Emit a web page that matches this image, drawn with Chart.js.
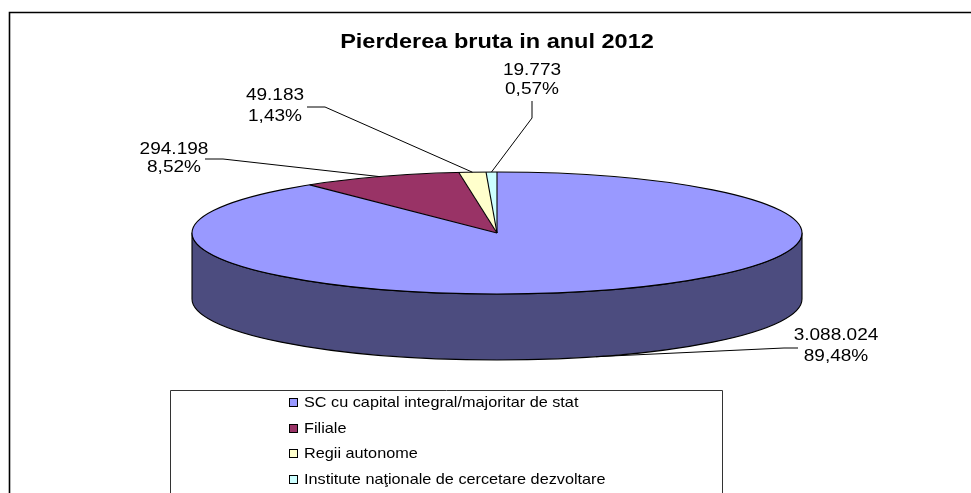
<!DOCTYPE html>
<html><head><meta charset="utf-8">
<script src="https://cdn.jsdelivr.net/npm/chart.js@4/dist/chart.umd.min.js"></script>
<style>html,body{margin:0;padding:0;background:#fff;overflow:hidden}#wrap{position:relative;width:971px;height:493px}</style>
</head><body><div id="wrap"><canvas id="c" width="971" height="493"></canvas></div>
<script>
// ---- data ----
const TITLE = 'Pierderea bruta in anul 2012';
const categories = ['SC cu capital integral/majoritar de stat', 'Filiale', 'Regii autonome', 'Institute naţionale de cercetare dezvoltare'];
const values = [3088024, 294198, 49183, 19773];

// ---- style ----
const TOP_COLORS = ['#9999FF', '#993366', '#FFFFCC', '#CCFFFF'];
const SIDE_COLORS = ['#4C4C7F', '#4C1933', '#7F7F66', '#667F7F'];
const RX = 305, RY = 61, DEPTH = 66;
const FONT = '"Liberation Sans", Arial, sans-serif';
const STRETCH = 1.12;
const LABEL_LAYOUT = [
  {cx: 836, y1: 335, y2: 356, from: [798, 348], elbow: [784, 348]},
  {cx: 174, y1: 149, y2: 167, from: [205, 159], elbow: [223, 159]},
  {cx: 275, y1: 95, y2: 116, from: [307, 107], elbow: [325, 107]},
  {cx: 532, y1: 70, y2: 89, from: [532, 101], elbow: [532, 118]}
];

function fmtThousands(v) { return String(v).replace(/\B(?=(\d{3})+(?!\d))/g, '.'); }
function fmtPct(v, total) { return (v / total * 100).toFixed(2).replace('.', ',') + '%'; }

function txt(ctx, s, x, y, font, align, color) {
  ctx.save();
  ctx.font = font; ctx.fillStyle = color || '#000';
  ctx.textBaseline = 'middle'; ctx.textAlign = align;
  ctx.translate(x, y); ctx.scale(STRETCH, 1);
  ctx.fillText(s, 0, 0);
  ctx.restore();
}

const pie3d = {
  id: 'pie3d',
  beforeDraw(chart) {
    const ctx = chart.ctx;
    ctx.save();
    ctx.fillStyle = '#fff'; ctx.fillRect(0, 0, chart.width, chart.height);
    ctx.strokeStyle = '#000'; ctx.lineWidth = 1.6;
    ctx.beginPath(); ctx.moveTo(9.5, chart.height + 2); ctx.lineTo(9.5, 12.5); ctx.lineTo(chart.width + 2, 12.5); ctx.stroke();
    ctx.restore();
  },
  beforeDatasetsDraw(chart) {
    const ctx = chart.ctx;
    const meta = chart.getDatasetMeta(0);
    const arcs = meta.data;
    const cx = arcs[0].x, cy = arcs[0].y, R = arcs[0].outerRadius;
    ctx.save();
    ctx.lineWidth = 1.1; ctx.strokeStyle = '#000'; ctx.lineJoin = 'round';
    arcs.forEach((el, i) => {
      for (let k = -1; k <= 1; k++) {
        const lo = Math.max(el.startAngle, 2 * Math.PI * k);
        const hi = Math.min(el.endAngle, 2 * Math.PI * k + Math.PI);
        if (hi > lo) {
          ctx.beginPath();
          ctx.ellipse(cx, cy, RX, RY, 0, lo, hi);
          ctx.ellipse(cx, cy + DEPTH, RX, RY, 0, hi, lo, true);
          ctx.closePath();
          ctx.fillStyle = SIDE_COLORS[i];
          ctx.fill(); ctx.stroke();
        }
      }
    });
    ctx.save();
    ctx.translate(cx, cy); ctx.scale(RX / R, RY / R); ctx.translate(-cx, -cy);
    meta.controller.draw();
    ctx.restore();
    ctx.beginPath(); ctx.ellipse(cx, cy, RX, RY, 0, 0, Math.PI * 2); ctx.stroke();
    arcs.forEach(el => {
      ctx.beginPath(); ctx.moveTo(cx, cy);
      ctx.lineTo(cx + RX * Math.cos(el.startAngle), cy + RY * Math.sin(el.startAngle));
      ctx.stroke();
    });
    ctx.restore();
    return false;
  },
  afterDraw(chart) {
    const ctx = chart.ctx;
    const meta = chart.getDatasetMeta(0);
    const arcs = meta.data;
    const cx = arcs[0].x, cy = arcs[0].y;
    const total = values.reduce((a, b) => a + b, 0);
    txt(ctx, TITLE, 497, 42, 'bold 21px ' + FONT, 'center');
    ctx.save();
    ctx.strokeStyle = '#000'; ctx.lineWidth = 1;
    arcs.forEach((el, i) => {
      const m = (el.startAngle + el.endAngle) / 2;
      let ax = cx + RX * Math.cos(m), ay = cy + RY * Math.sin(m);
      if (Math.sin(m) > 0) ay += DEPTH;
      const L = LABEL_LAYOUT[i];
      ctx.beginPath(); ctx.moveTo(L.from[0], L.from[1]); ctx.lineTo(L.elbow[0], L.elbow[1]); ctx.lineTo(ax, ay); ctx.stroke();
      txt(ctx, fmtThousands(values[i]), L.cx, L.y1, '17px ' + FONT, 'center');
      txt(ctx, fmtPct(values[i], total), L.cx, L.y2, '17px ' + FONT, 'center');
    });
    ctx.restore();
    ctx.save();
    ctx.strokeStyle = '#333'; ctx.lineWidth = 1;
    ctx.beginPath(); ctx.moveTo(170.5, chart.height + 2); ctx.lineTo(170.5, 390.5); ctx.lineTo(722.5, 390.5); ctx.lineTo(722.5, chart.height + 2); ctx.stroke();
    const rows = [403, 429, 454, 480];
    categories.forEach((c, i) => {
      const y = rows[i];
      ctx.fillStyle = TOP_COLORS[i];
      ctx.fillRect(289.5, y - 4.5, 8, 8);
      ctx.strokeStyle = '#000'; ctx.strokeRect(289.5, y - 4.5, 8, 8);
      txt(ctx, c, 304, y, '14.5px ' + FONT, 'left');
    });
    ctx.restore();
  }
};

const chart = new Chart(document.getElementById('c').getContext('2d'), {
  type: 'pie',
  data: {
    labels: categories,
    datasets: [{data: values, backgroundColor: TOP_COLORS, borderWidth: 0, hoverOffset: 0}]
  },
  options: {
    responsive: false, animation: false, events: [],
    layout: {padding: {left: 147, right: 124, top: 133, bottom: 160}},
    plugins: {legend: {display: false}, title: {display: false}, tooltip: {enabled: false}}
  },
  plugins: [pie3d]
});
</script></body></html>
